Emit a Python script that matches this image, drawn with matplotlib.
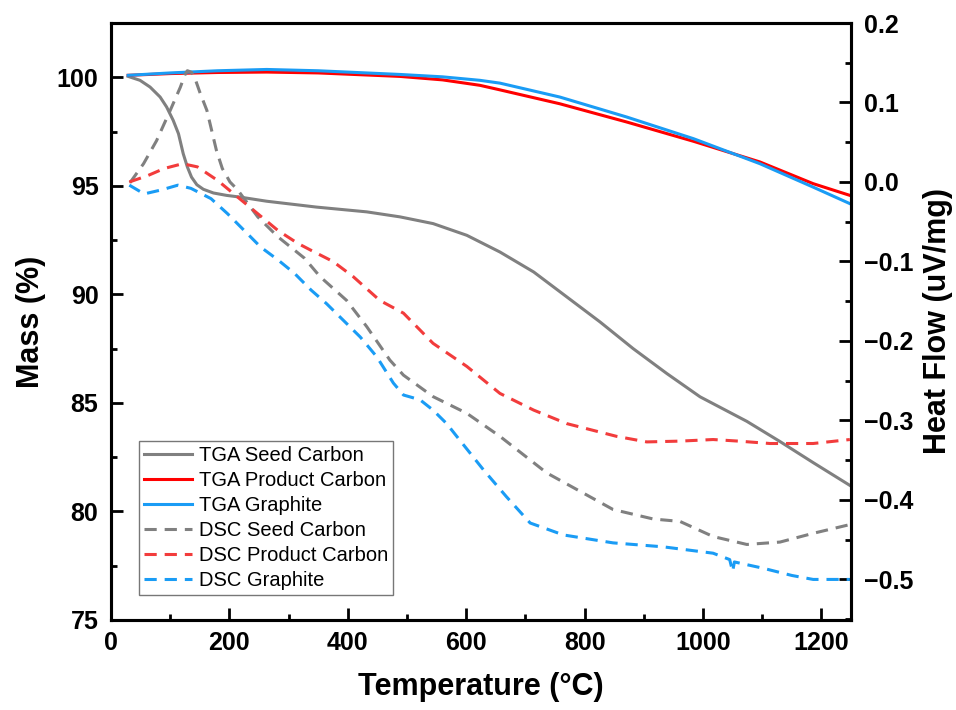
import matplotlib
matplotlib.use("Agg")
import matplotlib.pyplot as plt
from matplotlib.ticker import MultipleLocator

plt.rcParams['font.family'] = ['Liberation Sans', 'DejaVu Sans']

# TGA curves (left axis, Mass %)
tga_seed_T = [29, 49, 66, 83, 94, 105, 114, 122, 129, 136, 145, 156, 173, 195, 218,
              263, 347, 432, 488, 544, 601, 657, 714, 770, 826, 882, 939, 995,
              1074, 1130, 1186, 1248]
tga_seed_m = [100.04, 99.86, 99.55, 99.09, 98.63, 98.02, 97.4, 96.48, 95.87, 95.4,
              95.05, 94.84, 94.67, 94.56, 94.48, 94.29, 94.02, 93.8, 93.57, 93.26,
              92.72, 91.95, 91.03, 89.88, 88.73, 87.5, 86.35, 85.28, 84.15, 83.22,
              82.25, 81.2]

tga_prod_T = [29, 100, 180, 263, 350, 488, 560, 623, 657, 758, 871, 984, 1096,
              1186, 1248]
tga_prod_m = [100.09, 100.17, 100.22, 100.24, 100.2, 100.04, 99.88, 99.63, 99.42,
              98.78, 97.94, 97.05, 96.1, 95.1, 94.56]

tga_graph_T = [29, 100, 180, 263, 350, 488, 560, 623, 657, 758, 871, 984, 1096,
               1186, 1248]
tga_graph_m = [100.09, 100.2, 100.3, 100.36, 100.3, 100.13, 100.02, 99.86, 99.73,
               99.09, 98.17, 97.17, 96.02, 94.94, 94.18]

# DSC curves (right axis, Heat Flow uV/mg)
dsc_seed_T = [32, 55, 77, 100, 117, 125, 129, 136, 142, 150, 162, 178, 188, 201, 214,
              248, 282, 327, 353, 398, 432, 471, 494, 544, 601, 657, 736, 848, 916,
              961, 1017, 1074, 1130, 1186, 1248]
dsc_seed_h = [-0.001, 0.023, 0.052, 0.09, 0.119, 0.135, 0.14, 0.138, 0.13, 0.113,
              0.09, 0.04, 0.017, 0.0, -0.01, -0.044, -0.069, -0.096, -0.119, -0.149,
              -0.182, -0.224, -0.243, -0.27, -0.291, -0.32, -0.366, -0.412, -0.424,
              -0.427, -0.446, -0.456, -0.453, -0.442, -0.431]

dsc_prod_T = [31, 62, 90, 121, 146, 180, 214, 248, 282, 315, 338, 375, 409, 454,
              494, 544, 601, 657, 714, 770, 854, 905, 961, 1017, 1060, 1113, 1186,
              1248]
dsc_prod_h = [0.0, 0.008, 0.017, 0.023, 0.019, 0.002, -0.019, -0.04, -0.061, -0.077,
              -0.086, -0.1, -0.119, -0.149, -0.165, -0.203, -0.232, -0.266, -0.287,
              -0.304, -0.32, -0.327, -0.326, -0.324, -0.326, -0.329, -0.329, -0.324]

dsc_graph_T = [31, 56, 85, 113, 135, 169, 197, 225, 253, 282, 310, 338, 364, 387,
               421, 449, 477, 494, 522, 544, 567, 584, 629, 668, 708, 764, 848, 933,
               1017, 1045, 1050, 1053, 1102, 1150, 1186, 1248]
dsc_graph_h = [-0.004, -0.015, -0.01, -0.004, -0.008, -0.021, -0.04, -0.061, -0.082,
               -0.098, -0.115, -0.136, -0.153, -0.17, -0.195, -0.22, -0.253, -0.268,
               -0.274, -0.287, -0.304, -0.32, -0.362, -0.396, -0.429, -0.444, -0.454,
               -0.459, -0.467, -0.475, -0.49, -0.478, -0.486, -0.495, -0.5, -0.5]

gray = '#808080'
red = '#ff0000'
red_d = '#f23c3c'
blue = '#1a9cf5'
lw = 2.2
dash = (4, 2.6)

fig = plt.figure(figsize=(9.56, 7.1), dpi=100)
ax = fig.add_axes([0.1161, 0.1268, 0.7741, 0.8408])
ax2 = ax.twinx()

l1, = ax.plot(tga_seed_T, tga_seed_m, color=gray, lw=lw, label='TGA Seed Carbon')
l2, = ax.plot(tga_prod_T, tga_prod_m, color=red, lw=lw, label='TGA Product Carbon')
l3, = ax.plot(tga_graph_T, tga_graph_m, color=blue, lw=lw, label='TGA Graphite')
l4, = ax2.plot(dsc_seed_T, dsc_seed_h, color=gray, lw=lw, dashes=dash, label='DSC Seed Carbon')
l5, = ax2.plot(dsc_prod_T, dsc_prod_h, color=red_d, lw=lw, dashes=dash, label='DSC Product Carbon')
l6, = ax2.plot(dsc_graph_T, dsc_graph_h, color=blue, lw=lw, dashes=dash, label='DSC Graphite')

ax.set_xlim(0, 1250)
ax.set_ylim(75, 102.5)
ax2.set_ylim(-0.551, 0.2)

ax.xaxis.set_major_locator(MultipleLocator(200))
ax.xaxis.set_minor_locator(MultipleLocator(100))
ax.yaxis.set_major_locator(MultipleLocator(5))
ax.yaxis.set_minor_locator(MultipleLocator(2.5))
ax2.yaxis.set_major_locator(MultipleLocator(0.1))
ax2.yaxis.set_minor_locator(MultipleLocator(0.05))

for a in (ax, ax2):
    for s in a.spines.values():
        s.set_linewidth(2.2)
    a.tick_params(which='major', direction='in', length=8.5, width=2, labelsize=18)
    a.tick_params(which='minor', direction='in', length=4.3, width=2)
ax.tick_params(axis='x', which='both', top=False, pad=8)
ax.tick_params(axis='y', which='both', right=False, pad=9)
ax2.tick_params(axis='y', which='both', left=False, pad=9)

for lab in ax.get_xticklabels() + ax.get_yticklabels() + ax2.get_yticklabels():
    lab.set_fontweight('bold')

ax2.yaxis.set_major_formatter(plt.FuncFormatter(lambda v, p: f'{v:.1f}'.replace('-', '\u2212')))

ax.set_xlabel('Temperature (°C)', fontsize=22, fontweight='bold', labelpad=12)
ax.set_ylabel('Mass (%)', fontsize=22, fontweight='bold', labelpad=8)
ax2.set_ylabel('Heat Flow (uV/mg)', fontsize=22, fontweight='bold', labelpad=7)

leg = ax2.legend(handles=[l1, l2, l3, l4, l5, l6], loc='lower left',
                 bbox_to_anchor=(0.038, 0.042), fontsize=14.5, frameon=True,
                 fancybox=False, edgecolor='#555555', handlelength=2.4,
                 handletextpad=0.3, labelspacing=0.3, borderpad=0.25, borderaxespad=0)
leg.get_frame().set_linewidth(1)

fig.savefig('out.png', dpi=100)
